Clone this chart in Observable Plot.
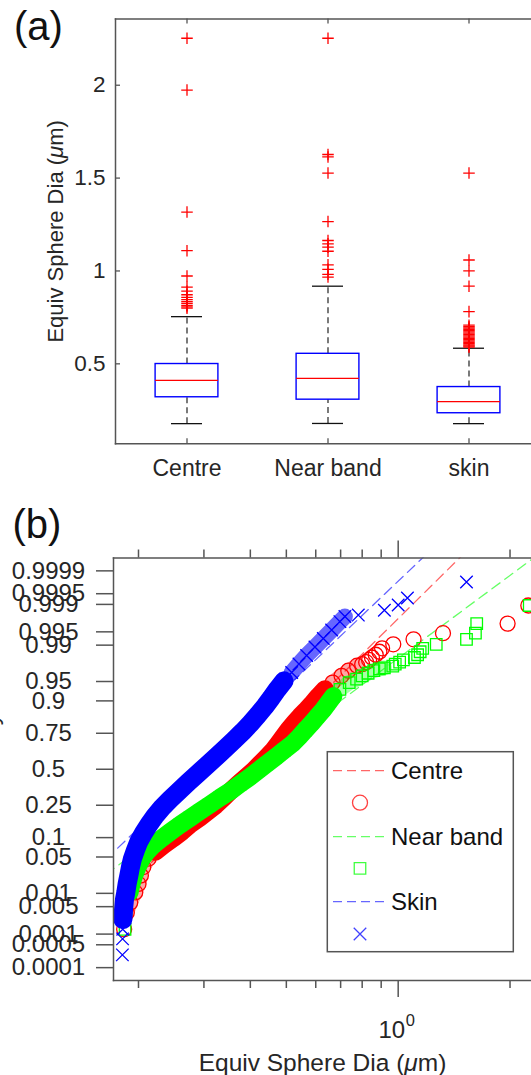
<!DOCTYPE html>
<html><head><meta charset="utf-8">
<script src="https://cdn.jsdelivr.net/npm/d3@7"></script>
<script src="https://cdn.jsdelivr.net/npm/@observablehq/plot@0.6"></script>
<style>
html,body{margin:0;padding:0;background:#fff;overflow:hidden;}
#chart{width:531px;}
#chart svg{display:block;overflow:hidden;}
</style></head><body><div id="chart"></div>
<script>
// ---------- Panel (a): box plot data ----------
const boxCats = ["Centre", "Near band", "skin"];
const boxQ1 = [0.320, 0.307, 0.234];
const boxMedian = [0.411, 0.422, 0.296];
const boxQ3 = [0.499, 0.554, 0.375];
const whiskerLow = [0.178, 0.179, 0.178];
const whiskerHigh = [0.754, 0.918, 0.584];
const outliersCentre = [2.253, 1.974, 1.317, 1.109, 0.973, 0.913, 0.891, 0.872, 0.858, 0.846, 0.835, 0.825, 0.815, 0.807, 0.800];
const outliersNear = [2.253, 1.627, 1.614, 1.527, 1.266, 1.164, 1.146, 1.128, 1.106, 1.033, 1.009, 0.982, 0.967];
const outliersSkin = [1.527, 1.059, 1.000, 0.918, 0.781, 0.708, 0.700, 0.693, 0.686, 0.679, 0.672, 0.665, 0.658, 0.651, 0.644, 0.637, 0.630, 0.623, 0.616, 0.609, 0.602, 0.596, 0.590];
const yTicksA = [0.5, 1, 1.5, 2];

// ---------- Panel (b): probability plot data (value, normal quantile of plotting position) ----------
const centreX = [0.183,0.186,0.190,0.196,0.200,0.203,0.206,0.213,0.222,0.234,0.248,0.262,0.275,0.292,0.308,0.323,0.339,0.354,0.371,0.389,0.408,0.425,0.443,0.461,0.476,0.491,0.506,0.524,0.544,0.567,0.589,0.610,0.635,0.666,0.704,0.734,0.775,0.800,0.820,0.835,0.850,0.870,0.890,0.905,0.970,1.100,1.320,1.970,2.240];
const centreQ = [-3.00,-2.69,-2.50,-2.309,-2.150,-1.992,-1.833,-1.674,-1.548,-1.421,-1.294,-1.167,-1.040,-0.913,-0.786,-0.672,-0.532,-0.405,-0.278,-0.152,-0.025,0.102,0.229,0.356,0.483,0.610,0.736,0.863,0.990,1.117,1.244,1.371,1.498,1.625,1.752,1.847,1.942,1.969,2.007,2.049,2.095,2.146,2.203,2.267,2.342,2.435,2.55,2.73,3.07];
const nearX = [0.184,0.1853,0.1892,0.1915,0.1947,0.1988,0.2042,0.2106,0.2195,0.2311,0.2443,0.2588,0.2754,0.2929,0.3098,0.3316,0.3541,0.3752,0.3976,0.4196,0.4426,0.4679,0.4929,0.5200,0.5419,0.5624,0.5849,0.6058,0.6287,0.6485,0.6689,0.6969,0.7383,0.7727,0.80,0.83,0.86,0.89,0.918,0.967,0.982,1.009,1.033,1.106,1.128,1.146,1.164,1.266,1.527,1.614,1.627,2.253];
const nearQ = [-3.00,-2.626,-2.309,-2.150,-1.992,-1.833,-1.674,-1.548,-1.421,-1.294,-1.167,-1.040,-0.913,-0.786,-0.672,-0.532,-0.405,-0.278,-0.152,-0.025,0.102,0.229,0.356,0.483,0.610,0.736,0.863,0.990,1.117,1.244,1.371,1.498,1.625,1.688,1.75,1.80,1.85,1.88,1.90,1.933,1.969,2.007,2.049,2.095,2.146,2.203,2.267,2.342,2.435,2.55,2.73,3.07];
const skinX = [0.1810,0.1812,0.1814,0.1816,0.1823,0.1834,0.1849,0.1864,0.1884,0.1903,0.1927,0.1963,0.2004,0.2063,0.2132,0.2213,0.2311,0.2433,0.2573,0.2720,0.2881,0.3053,0.3234,0.3420,0.3616,0.3816,0.4009,0.4196,0.4382,0.4557,0.4729,0.4929,0.5168,0.5407,0.5670,0.5970,0.6287,0.6621,0.6969,0.7188,0.781,0.918,1.000,1.059,1.527];
const skinQ = [-3.48,-3.18,-3.00,-2.817,-2.626,-2.436,-2.309,-2.150,-1.992,-1.833,-1.674,-1.516,-1.357,-1.198,-1.040,-0.881,-0.723,-0.564,-0.405,-0.247,-0.088,0.071,0.229,0.388,0.546,0.705,0.864,1.022,1.181,1.340,1.498,1.657,1.815,1.974,2.133,2.291,2.450,2.609,2.767,2.862,2.89,2.98,3.08,3.21,3.51];
// dashed reference (fit) lines: two end points each (value, quantile)
const fitCentreX = [0.1636, 1.533], fitCentreQ = [-2.586, 4.10];
const fitNearX = [0.1636, 2.63], fitNearQ = [-1.969, 4.246];
const fitSkinX = [0.1636, 1.189], fitSkinQ = [-1.685, 4.024];
const probTicks = [0.0001,0.0005,0.001,0.005,0.01,0.05,0.1,0.25,0.5,0.75,0.9,0.95,0.99,0.995,0.999,0.9995,0.9999];
const xMinorTicks = [0.2,0.3,0.4,0.5,0.6,0.7,0.8,0.9,2];
const xMajorTicks = [1];
const legendNames = ["Centre", "Near band", "Skin"];

// inverse standard normal CDF (Acklam) — probability axis transform
function normInv(p){
  const a=[-3.969683028665376e+01,2.209460984245205e+02,-2.759285104469687e+02,1.383577518672690e+02,-3.066479806614716e+01,2.506628277459239e+00];
  const b=[-5.447609879822406e+01,1.615858368580409e+02,-1.556989798598866e+02,6.680131188771972e+01,-1.328068155288572e+01];
  const c=[-7.784894002430293e-03,-3.223964580411365e-01,-2.400758277161838e+00,-2.549671010114818e+00,4.374664141464968e+00,2.938163982698783e+00];
  const d=[7.784695709041462e-03,3.224671290700398e-01,2.445134137142996e+00,3.754408661907416e+00];
  const pl=0.02425, ph=1-pl; let q,r;
  if(p<pl){q=Math.sqrt(-2*Math.log(p));return (((((c[0]*q+c[1])*q+c[2])*q+c[3])*q+c[4])*q+c[5])/((((d[0]*q+d[1])*q+d[2])*q+d[3])*q+1);}
  if(p<=ph){q=p-0.5;r=q*q;return (((((a[0]*r+a[1])*r+a[2])*r+a[3])*r+a[4])*r+a[5])*q/(((((b[0]*r+b[1])*r+b[2])*r+b[3])*r+b[4])*r+1);}
  q=Math.sqrt(-2*Math.log(1-p));return -(((((c[0]*q+c[1])*q+c[2])*q+c[3])*q+c[4])*q+c[5])/((((d[0]*q+d[1])*q+d[2])*q+d[3])*q+1);
}

const FONT = "'Liberation Sans', Arial, Helvetica, sans-serif";
const INK = "#262626", AXIS = "#555";
const W = 531;

function italicMu(svg){
  const ns = "http://www.w3.org/2000/svg";
  svg.querySelectorAll("text").forEach(t => {
    const s = t.textContent; const i = s.indexOf("μ");
    if (i < 0 || t.children.length) return;
    t.textContent = "";
    const parts = [[s.slice(0,i), null],["μ","italic"],[s.slice(i+1), null]];
    for (const [txt, st] of parts){ const sp = document.createElementNS(ns,"tspan"); sp.textContent = txt; if (st) sp.setAttribute("font-style", st); t.appendChild(sp); }
  });
}

// ================= Panel (a) =================
const A = {height: 495, top: 18.6, bottom: 443.2, left: 115, right: 539.5};
const boxes = boxCats.map((c,i)=>({cat:c, q1:boxQ1[i], med:boxMedian[i], q3:boxQ3[i], lo:whiskerLow[i], hi:whiskerHigh[i]}));
const outliers = [
  ...outliersCentre.map(v=>({cat:boxCats[0], v})),
  ...outliersNear.map(v=>({cat:boxCats[1], v})),
  ...outliersSkin.map(v=>({cat:boxCats[2], v}))
];
const bw = (A.right - A.left)/3;
const boxInset = (bw - 63.3)/2, capInset = (bw - 31.5)/2;
const frameHA = A.bottom - A.top, frameWA = W - A.left;

const plotA = Plot.plot({
  width: W, height: A.height,
  marginTop: A.top, marginBottom: A.height - A.bottom, marginLeft: A.left, marginRight: 0,
  style: {fontFamily: FONT, background: "#fff", color: INK},
  x: {type: "band", domain: boxCats, range: [A.left, A.right], padding: 0, axis: null},
  y: {domain: [0.070, 2.356], axis: null},
  marks: [
    Plot.frame({anchor: "left", stroke: AXIS, strokeWidth: 1.5}),
    Plot.frame({anchor: "top", stroke: AXIS, strokeWidth: 1.5}),
    Plot.frame({anchor: "bottom", stroke: AXIS, strokeWidth: 1.5}),
    Plot.tickY(yTicksA, {y: d=>d, insetRight: frameWA - 5, stroke: AXIS, strokeWidth: 1.3}),
    Plot.tickX(boxCats, {x: d=>d, insetTop: frameHA - 5, stroke: AXIS, strokeWidth: 1.3}),
    Plot.tickX(boxCats, {x: d=>d, insetBottom: frameHA - 5, stroke: AXIS, strokeWidth: 1.3}),
    Plot.text(yTicksA, {y: d=>d, text: d=>String(d), frameAnchor: "left", dx: -10, textAnchor: "end", fontSize: 22.5, fill: INK}),
    Plot.text(boxCats, {x: d=>d, text: d=>d, frameAnchor: "bottom", dy: 32.2, lineAnchor: "bottom", fontSize: 23, fill: INK}),
    Plot.text(["Equiv Sphere Dia (μm)"], {frameAnchor: "left", dx: -53, rotate: -90, textAnchor: "middle", lineAnchor: "bottom", fontSize: 22, fill: INK}),
    Plot.text(["(a)"], {frameAnchor: "top-left", dx: -101.5, dy: 20.8, textAnchor: "start", lineAnchor: "bottom", fontSize: 40, fill: "#111"}),
    Plot.ruleX(boxes, {x: "cat", y1: "q3", y2: "hi", stroke: "#333", strokeWidth: 1.3, strokeDasharray: "6,4"}),
    Plot.ruleX(boxes, {x: "cat", y1: "lo", y2: "q1", stroke: "#333", strokeWidth: 1.3, strokeDasharray: "6,4"}),
    Plot.tickY(boxes, {x: "cat", y: "hi", insetLeft: capInset, insetRight: capInset, stroke: "#111", strokeWidth: 1.3}),
    Plot.tickY(boxes, {x: "cat", y: "lo", insetLeft: capInset, insetRight: capInset, stroke: "#111", strokeWidth: 1.3}),
    Plot.barY(boxes, {x: "cat", y1: "q1", y2: "q3", fill: "none", stroke: "#0000ff", strokeWidth: 1.4, insetLeft: boxInset, insetRight: boxInset}),
    Plot.tickY(boxes, {x: "cat", y: "med", insetLeft: boxInset, insetRight: boxInset, stroke: "#ff0000", strokeWidth: 1.3}),
    Plot.dot(outliers, {x: "cat", y: "v", symbol: "plus", r: 3.8, stroke: "#ff0000", strokeWidth: 1.3})
  ]
});
italicMu(plotA);

// ================= Panel (b) =================
const B = {height: 580, top: 62.5, bottom: 485, left: 113, right: 535};
const frameHB = B.bottom - B.top, frameWB = W - B.left;
const series = [
  {X: centreX, Q: centreQ, color: "#ff0000", symbol: "circle", r: 7.5, band: 18, hatchOpacity: 0.35, solid: [[-1.55, 1.56]], hatch: [[-2.7, -1.55], [1.56, 1.95]], fitX: fitCentreX, fitQ: fitCentreQ},
  {X: nearX, Q: nearQ, color: "#00ff00", symbol: "square", r: 6.49, band: 18, hatchOpacity: 0.35, solid: [[-2.4, 1.40]], hatch: [[1.40, 1.90]], fitX: fitNearX, fitQ: fitNearQ},
  {X: skinX, Q: skinQ, color: "#0000ff", symbol: "times", r: 5.75, band: 19, hatchOpacity: 0.6, solid: [[-2.9, 1.70]], hatch: [[1.70, 2.87]], fitX: fitSkinX, fitQ: fitSkinQ}
];
const pts = s => s.X.map((x,i)=>({x, q: s.Q[i]}));
const dataMarks = [];
for (const s of series) {
  const f = s.fitX.map((x,i)=>({x, q: s.fitQ[i]}));
  dataMarks.push(Plot.line(f, {x: "x", y: "q", stroke: s.color, strokeWidth: 1.3, strokeOpacity: 0.6, strokeDasharray: "10,6", clip: true}));
}
for (const s of series) {
  const P = pts(s);
  for (const [lo, hi] of s.hatch)
    dataMarks.push(Plot.line(P.filter(d=>d.q>=lo && d.q<=hi), {x: "x", y: "q", stroke: s.color, strokeWidth: s.band - 3, strokeOpacity: s.hatchOpacity, strokeLinecap: "round", strokeLinejoin: "round", clip: true}));
  for (const [lo, hi] of s.solid)
    dataMarks.push(Plot.line(P.filter(d=>d.q>=lo && d.q<=hi), {x: "x", y: "q", stroke: s.color, strokeWidth: s.band, strokeLinecap: "round", strokeLinejoin: "round", clip: true}));
  dataMarks.push(Plot.dot(P, {x: "x", y: "q", symbol: s.symbol, r: s.r, stroke: s.color, strokeWidth: 1.3, fill: "none", clip: true}));
}

const plotB = Plot.plot({
  width: W, height: B.height,
  marginTop: B.top, marginBottom: B.height - B.bottom, marginLeft: B.left, marginRight: 0,
  style: {fontFamily: FONT, background: "#fff", color: INK},
  x: {type: "log", domain: [0.1713, 2.342], range: [B.left, B.right], axis: null},
  y: {domain: [-3.96, 3.96], axis: null},
  marks: [
    ...dataMarks,
    Plot.frame({anchor: "left", stroke: AXIS, strokeWidth: 1.5}),
    Plot.frame({anchor: "top", stroke: AXIS, strokeWidth: 1.5}),
    Plot.frame({anchor: "bottom", stroke: AXIS, strokeWidth: 1.5}),
    Plot.tickY(probTicks, {y: p=>normInv(p), insetLeft: -17, insetRight: frameWB, stroke: AXIS, strokeWidth: 1.5}),
    Plot.text(probTicks, {y: p=>normInv(p), text: p=>String(p), frameAnchor: "left", dx: -65, textAnchor: "middle", fontSize: 24, fill: INK}),
    Plot.tickX(xMinorTicks, {x: d=>d, insetTop: frameHB, insetBottom: -8, stroke: AXIS, strokeWidth: 1.5}),
    Plot.tickX(xMinorTicks, {x: d=>d, insetTop: -8, insetBottom: frameHB, stroke: AXIS, strokeWidth: 1.5}),
    Plot.tickX(xMajorTicks, {x: d=>d, insetTop: frameHB, insetBottom: -17, stroke: AXIS, strokeWidth: 1.5}),
    Plot.tickX(xMajorTicks, {x: d=>d, insetTop: -17, insetBottom: frameHB, stroke: AXIS, strokeWidth: 1.5}),
    Plot.text(xMajorTicks, {x: d=>d, text: d=>"10", frameAnchor: "bottom", dx: 7, dy: 57.5, textAnchor: "end", lineAnchor: "bottom", fontSize: 24, fill: INK}),
    Plot.text(xMajorTicks, {x: d=>d, text: d=>String(Math.round(Math.log10(d))), frameAnchor: "bottom", dx: 7.5, dy: 45.7, textAnchor: "start", lineAnchor: "bottom", fontSize: 16.5, fill: INK}),
    Plot.text(["Equiv Sphere Dia (μm)"], {frameAnchor: "bottom", dy: 90.7, textAnchor: "middle", lineAnchor: "bottom", fontSize: 24.5, fill: INK}),
    Plot.text(["Probability"], {frameAnchor: "left", dx: -116, rotate: -90, textAnchor: "middle", lineAnchor: "bottom", fontSize: 24, fill: INK}),
    Plot.text(["(b)"], {frameAnchor: "top-left", dx: -101, dy: -19.8, textAnchor: "start", lineAnchor: "bottom", fontSize: 40, fill: "#111"})
  ]
});
italicMu(plotB);

// legend (inside panel b)
const lg = d3.select(plotB).append("g").attr("font-family", FONT).attr("text-anchor", "start");
lg.append("rect").attr("x", 327.3).attr("y", 256.7).attr("width", 186).attr("height", 200)
  .attr("fill", "#fff").attr("stroke", "#555").attr("stroke-width", 1.5);
const rowLine = [275.7, 341.7, 406.7], rowMark = [307.7, 373.3, 439];
series.forEach((s, i) => {
  lg.append("line").attr("x1", 333).attr("x2", 387).attr("y1", rowLine[i]).attr("y2", rowLine[i])
    .attr("stroke", s.color).attr("stroke-opacity", 0.6).attr("stroke-width", 1.3).attr("stroke-dasharray", "9,5");
  lg.append("text").attr("x", 391).attr("y", rowLine[i]).attr("dy", "0.35em").attr("text-anchor", "start")
    .attr("font-size", 24).attr("fill", "#111").text(legendNames[i]);
  const sym = {circle: d3.symbolCircle, square: d3.symbolSquare, times: d3.symbolTimes}[s.symbol];
  lg.append("path").attr("transform", `translate(360,${rowMark[i]})`)
    .attr("d", d3.symbol(sym, Math.PI * s.r * s.r)())
    .attr("fill", "none").attr("stroke", s.color).attr("stroke-opacity", 0.75).attr("stroke-width", 1.3);
});

document.getElementById("chart").append(plotA, plotB);
</script></body></html>
